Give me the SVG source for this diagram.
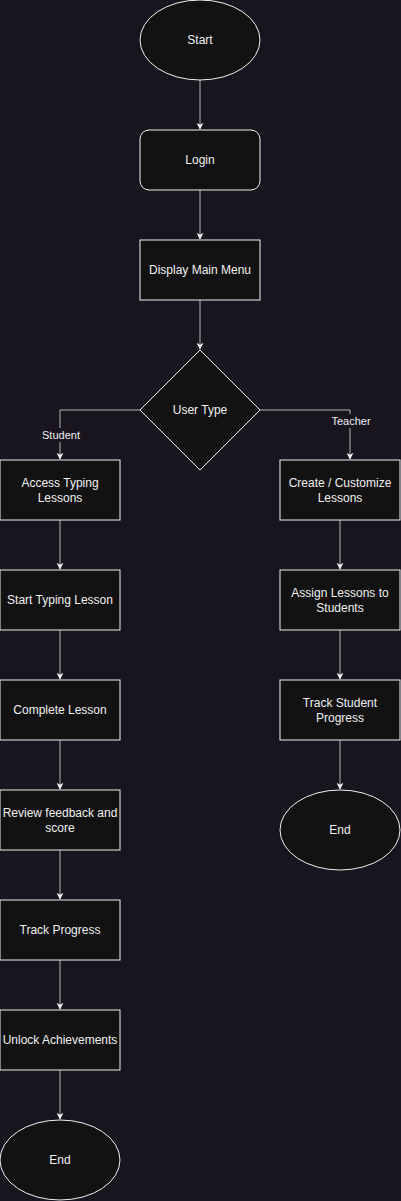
<svg xmlns="http://www.w3.org/2000/svg" width="401" height="1201" viewBox="0 0 401 1201">
<style>
.n{fill:#121212;stroke:#f0f0f0;stroke-width:1}
.t{font-family:"Liberation Sans",Arial,sans-serif;font-size:12px;fill:#f0f0f0;text-anchor:middle}
.l{font-family:"Liberation Sans",Arial,sans-serif;font-size:11px;fill:#f0f0f0;text-anchor:middle}
.c{fill:none;stroke:#b3b3b3;stroke-width:1}
</style>
<defs>
<marker id="a" viewBox="0 0 10 10" refX="9" refY="5" markerWidth="7" markerHeight="7" markerUnits="userSpaceOnUse" orient="auto">
<path d="M0,0 L10,5 L0,10 L3,5 Z" fill="#f0f0f0"/>
</marker>
</defs>
<rect width="401" height="1201" fill="#18151f"/>
<g id="connectors">
<path class="c" d="M200,80 V129" marker-end="url(#a)"/>
<path class="c" d="M200,190 V239" marker-end="url(#a)"/>
<path class="c" d="M200,300 V349" marker-end="url(#a)"/>
<path class="c" d="M140,410 H60 V459" marker-end="url(#a)"/>
<path class="c" d="M260,410 H350 V459" marker-end="url(#a)"/>
<path class="c" d="M60,520 V569" marker-end="url(#a)"/>
<path class="c" d="M60,630 V679" marker-end="url(#a)"/>
<path class="c" d="M60,740 V789" marker-end="url(#a)"/>
<path class="c" d="M60,850 V899" marker-end="url(#a)"/>
<path class="c" d="M60,960 V1009" marker-end="url(#a)"/>
<path class="c" d="M60,1070 V1119" marker-end="url(#a)"/>
<path class="c" d="M340,520 V569" marker-end="url(#a)"/>
<path class="c" d="M340,630 V679" marker-end="url(#a)"/>
<path class="c" d="M340,740 V789" marker-end="url(#a)"/>
<rect x="40" y="428" width="42" height="14" fill="#18151f"/>
<text class="l" x="61" y="439">Student</text>
<rect x="330" y="414" width="42" height="14" fill="#18151f"/>
<text class="l" x="351" y="425">Teacher</text>
</g>
<g id="start"><ellipse class="n" cx="200" cy="40" rx="60" ry="40"/><text class="t" x="200" y="44">Start</text></g>
<g id="login"><rect class="n" x="140" y="130" width="120" height="60" rx="9"/><text class="t" x="200" y="164">Login</text></g>
<g id="menu"><rect class="n" x="140" y="240" width="120" height="60"/><text class="t" x="200" y="274">Display Main Menu</text></g>
<g id="usertype"><path class="n" d="M200,350 L260,410 L200,470 L140,410 Z"/><text class="t" x="200" y="414">User Type</text></g>
<g id="access"><rect class="n" x="0" y="460" width="120" height="60"/><text class="t" x="60" y="487">Access Typing</text><text class="t" x="60" y="502">Lessons</text></g>
<g id="startlesson"><rect class="n" x="0" y="570" width="120" height="60"/><text class="t" x="60" y="604">Start Typing Lesson</text></g>
<g id="complete"><rect class="n" x="0" y="680" width="120" height="60"/><text class="t" x="60" y="714">Complete Lesson</text></g>
<g id="review"><rect class="n" x="0" y="790" width="120" height="60"/><text class="t" x="60" y="817">Review feedback and</text><text class="t" x="60" y="832">score</text></g>
<g id="track"><rect class="n" x="0" y="900" width="120" height="60"/><text class="t" x="60" y="934">Track Progress</text></g>
<g id="unlock"><rect class="n" x="0" y="1010" width="120" height="60"/><text class="t" x="60" y="1044">Unlock Achievements</text></g>
<g id="end1"><ellipse class="n" cx="60" cy="1160" rx="60" ry="40"/><text class="t" x="60" y="1164">End</text></g>
<g id="create"><rect class="n" x="280" y="460" width="120" height="60"/><text class="t" x="340" y="487">Create / Customize</text><text class="t" x="340" y="502">Lessons</text></g>
<g id="assign"><rect class="n" x="280" y="570" width="120" height="60"/><text class="t" x="340" y="597">Assign Lessons to</text><text class="t" x="340" y="612">Students</text></g>
<g id="trackstudent"><rect class="n" x="280" y="680" width="120" height="60"/><text class="t" x="340" y="707">Track Student</text><text class="t" x="340" y="722">Progress</text></g>
<g id="end2"><ellipse class="n" cx="340" cy="830" rx="60" ry="40"/><text class="t" x="340" y="834">End</text></g>
</svg>
